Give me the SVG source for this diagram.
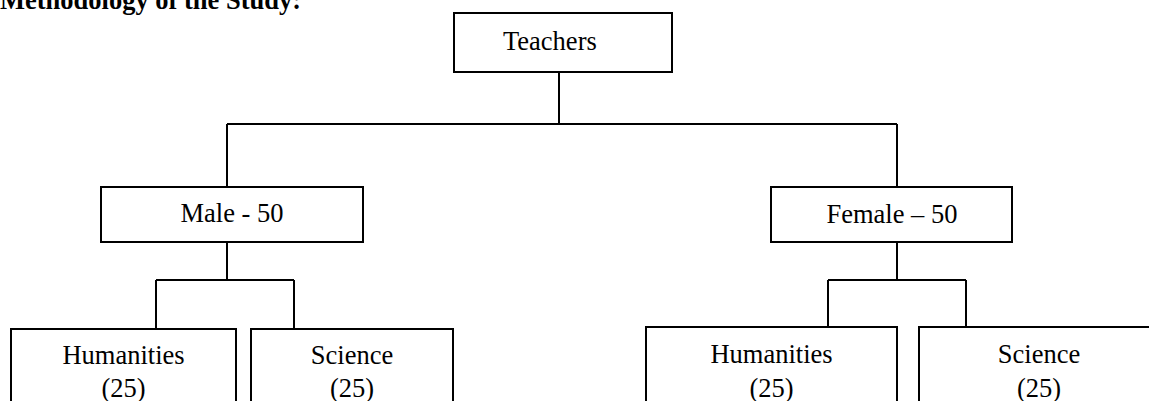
<svg xmlns="http://www.w3.org/2000/svg" width="1149" height="401" viewBox="0 0 1149 401">
<style>
.box{fill:#fff;stroke:#000;stroke-width:2}
.con{fill:none;stroke:#000;stroke-width:2}
text{font-family:"Liberation Serif","Times New Roman",serif;font-size:26.5px;fill:#000}
.c{text-anchor:middle}
.title{font-weight:bold}
</style>
<rect width="1149" height="401" fill="#fff"/>
<text class="title" x="0" y="9">Methodology of the Study:</text>
<g id="connectors">
<path class="con" d="M559,72 V124 M227,124 H897 M227,124 V187 M897,124 V187"/>
<path class="con" d="M227,242 V280 M156,280 H294 M156,280 V329 M294,280 V329"/>
<path class="con" d="M897,242 V280 M828,280 H966 M828,280 V327 M966,280 V327"/>
</g>
<g id="teachers">
<rect class="box" x="454" y="13" width="218" height="59"/>
<text x="503" y="50">Teachers</text>
</g>
<g id="male">
<rect class="box" x="101" y="187" width="262" height="55"/>
<text class="c" x="232" y="222">Male - 50</text>
</g>
<g id="female">
<rect class="box" x="771" y="187" width="241" height="55"/>
<text class="c" x="892" y="223">Female – 50</text>
</g>
<g id="male-humanities">
<rect class="box" x="11" y="329" width="225" height="90"/>
<text class="c" x="123.5" y="364">Humanities</text>
<text class="c" x="123.5" y="397">(25)</text>
</g>
<g id="male-science">
<rect class="box" x="251" y="329" width="202" height="90"/>
<text class="c" x="352" y="364">Science</text>
<text class="c" x="352" y="397">(25)</text>
</g>
<g id="female-humanities">
<rect class="box" x="646" y="327" width="251" height="90"/>
<text class="c" x="771.5" y="363">Humanities</text>
<text class="c" x="771.5" y="397">(25)</text>
</g>
<g id="female-science">
<rect class="box" x="919" y="327" width="241" height="90"/>
<text class="c" x="1039" y="363">Science</text>
<text class="c" x="1039" y="397">(25)</text>
</g>
</svg>
